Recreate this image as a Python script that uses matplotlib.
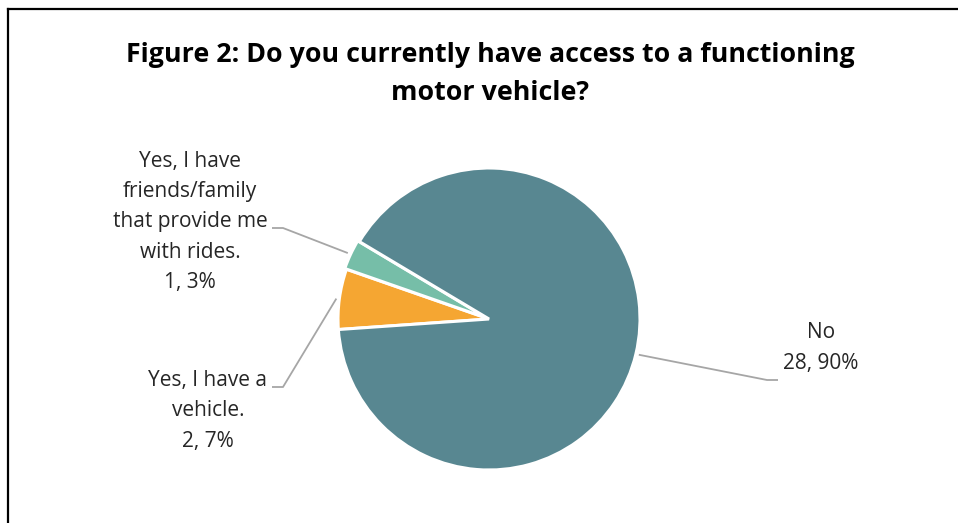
import matplotlib.pyplot as plt
from matplotlib.lines import Line2D
import numpy as np

# survey answers, drawn clockwise from the left
answers = ["Yes, I have a\nvehicle.",
           "Yes, I have\nfriends/family\nthat provide me\nwith rides.",
           "No"]
counts = [2, 1, 28]
percents = [7, 3, 90]
colors = ["#F5A632", "#76BEA8", "#588791"]

title = "Figure 2: Do you currently have access to a functioning\nmotor vehicle?"

W, H = 958, 523
plt.rcParams["font.family"] = ["Open Sans", "DejaVu Sans"]

fig = plt.figure(figsize=(W / 100, H / 100), dpi=100)
ax = fig.add_axes([0, 0, 1, 1])

cx, cy, r = 489, H - 319, 151
wedges, _ = ax.pie(counts, colors=colors, startangle=184, counterclock=False,
                   center=(cx, cy), radius=r, explode=[0, 0.012 * r, 0],
                   wedgeprops=dict(edgecolor="white", linewidth=2.2))
ax.set_xlim(0, W)
ax.set_ylim(0, H)
ax.set_aspect("equal")
ax.axis("off")

# label text centre, elbow start, elbow end (pixels from top-left)
label_pos = [(208, 411), (190, 222), (821, 348)]
elbows = [((272, 387), (283, 387)),
          ((272, 228), (283, 228)),
          ((778, 380), (767, 380))]

for w, name, n, p, (tx, ty), (e0, e1) in zip(wedges, answers, counts, percents,
                                             label_pos, elbows):
    mid = np.deg2rad((w.theta1 + w.theta2) / 2)
    wx, wy = w.center
    px = wx + 1.02 * r * np.cos(mid)
    py = wy + 1.02 * r * np.sin(mid)
    ax.plot([e0[0], e1[0], px], [H - e0[1], H - e1[1], py],
            color="#A6A6A6", lw=1.3, solid_capstyle="butt")
    ax.text(tx, H - ty, f"{name}\n{n}, {p}%", ha="center", va="center",
            fontsize=15, color="#262626", linespacing=1.57)

fig.text(490 / W, 1 - 74 / H, title, ha="center", va="center", fontsize=19.3,
         fontweight="bold", color="#000000", linespacing=1.6)

# chart border (left and top edges only)
fig.add_artist(Line2D([8 / W, 8 / W], [0, 1 - 9 / H], color="black", lw=1.6,
                      transform=fig.transFigure))
fig.add_artist(Line2D([8 / W, 1], [1 - 9 / H, 1 - 9 / H], color="black", lw=1.6,
                      transform=fig.transFigure))

fig.savefig("out.png", dpi=100, facecolor="white")
